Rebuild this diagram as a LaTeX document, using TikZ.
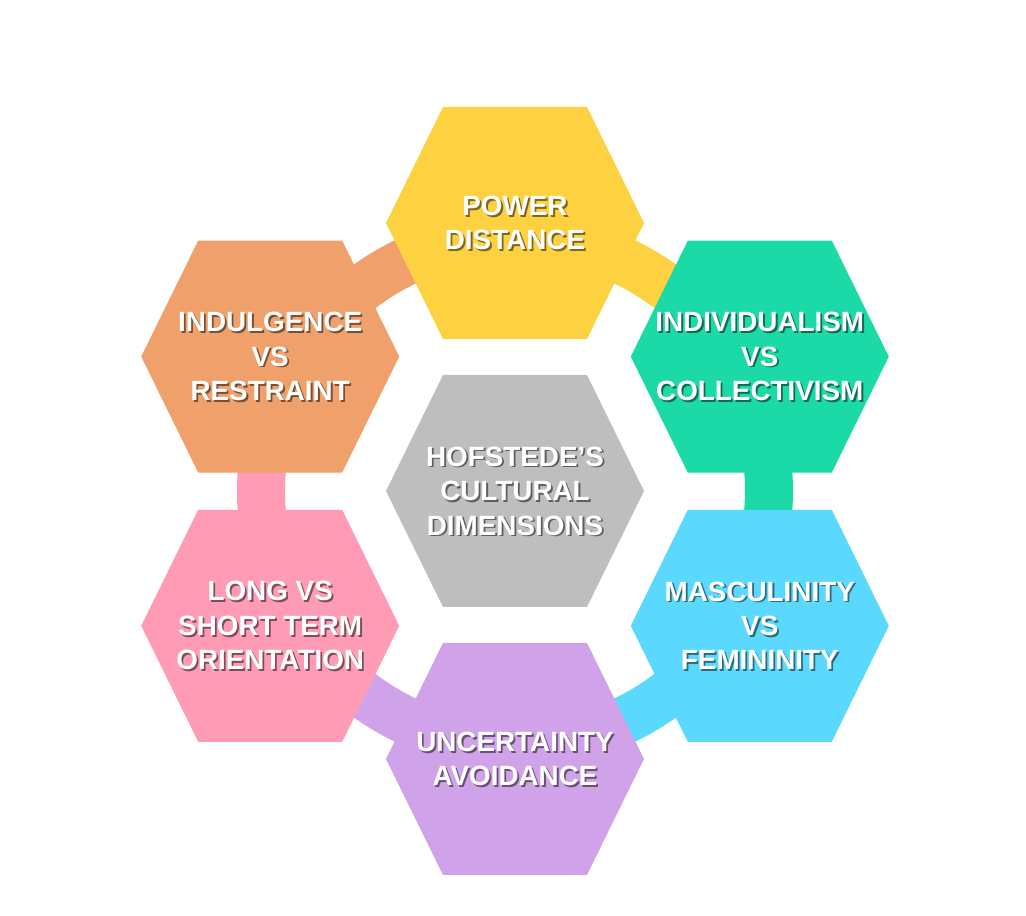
\documentclass[tikz,border=0pt]{standalone}
\usepackage{fontspec}
\setmainfont{Liberation Sans}
\usepackage{tikz}
\usetikzlibrary{positioning,calc}
\usepackage{xcolor}

\definecolor{pdyellow}{RGB}{253,209,64}
\definecolor{irorange}{RGB}{240,161,107}
\definecolor{icteal}{RGB}{28,217,168}
\definecolor{mfblue}{RGB}{90,216,254}
\definecolor{uapurple}{RGB}{208,162,233}
\definecolor{ltpink}{RGB}{255,155,180}
\definecolor{hcgray}{RGB}{190,190,190}

\tikzset{
  hexa/.pic={\path[pic actions] (-3.225,0) -- (-1.8,2.9) -- (1.8,2.9) -- (3.225,0) -- (1.8,-2.9) -- (-1.8,-2.9) -- cycle;}
}

\begin{document}
\begin{tikzpicture}[
  txt/.style={text=white, align=center, font=\bfseries\fontsize{19.8}{24.5}\selectfont},
  txtshadow/.style={text=black, opacity=0.5, align=center, font=\bfseries\fontsize{19.8}{24.5}\selectfont},
  band/.style={line width=1.2cm}
]
\useasboundingbox (-12.875,-10.625) rectangle (12.775,12.275);

% ring pieces under the hexagons
\draw[band, irorange] (151.3:6.35) arc[start angle=151.3, end angle=90, radius=6.35];
\draw[band, pdyellow] (90:6.35) arc[start angle=90, end angle=28.7, radius=6.35];
\draw[band, icteal] (28.7:6.35) arc[start angle=28.7, end angle=-28.7, radius=6.35];
\draw[band, mfblue] (-28.7:6.35) arc[start angle=-28.7, end angle=-90, radius=6.35];
\draw[band, uapurple] (-90:6.35) arc[start angle=-90, end angle=-151.3, radius=6.35];
\draw[band, ltpink] (-151.3:6.35) arc[start angle=-151.3, end angle=-208.7, radius=6.35];

\pic[fill=pdyellow] at (0,6.7) {hexa};
\pic[fill=irorange] at (-6.12,3.36) {hexa};
\pic[fill=icteal] at (6.12,3.36) {hexa};
\pic[fill=ltpink] at (-6.12,-3.37) {hexa};
\pic[fill=mfblue] at (6.12,-3.37) {hexa};
\pic[fill=uapurple] at (0,-6.7) {hexa};
\pic[fill=hcgray] at (0,0) {hexa};

\node[txtshadow] (power-sh) at (0.045,6.655) {POWER\\DISTANCE};
\node[txt] (power) at (0,6.7) {POWER\\DISTANCE};
\node[txtshadow] (indul-sh) at (-6.075,3.315) {INDULGENCE\\VS\\RESTRAINT};
\node[txt] (indul) at (-6.12,3.36) {INDULGENCE\\VS\\RESTRAINT};
\node[txtshadow] (indiv-sh) at (6.165,3.315) {INDIVIDUALISM\\VS\\COLLECTIVISM};
\node[txt] (indiv) at (6.12,3.36) {INDIVIDUALISM\\VS\\COLLECTIVISM};
\node[txtshadow] (longt-sh) at (-6.075,-3.415) {LONG VS\\SHORT TERM\\ORIENTATION};
\node[txt] (longt) at (-6.12,-3.37) {LONG VS\\SHORT TERM\\ORIENTATION};
\node[txtshadow] (masc-sh) at (6.165,-3.415) {MASCULINITY\\VS\\FEMININITY};
\node[txt] (masc) at (6.12,-3.37) {MASCULINITY\\VS\\FEMININITY};
\node[txtshadow] (uncert-sh) at (0.045,-6.745) {UNCERTAINTY\\AVOIDANCE};
\node[txt] (uncert) at (0,-6.7) {UNCERTAINTY\\AVOIDANCE};
\node[txtshadow] (hofst-sh) at (0.045,-0.045) {HOFSTEDE’S\\CULTURAL\\DIMENSIONS};
\node[txt] (hofst) at (0,0) {HOFSTEDE’S\\CULTURAL\\DIMENSIONS};
\end{tikzpicture}
\end{document}
